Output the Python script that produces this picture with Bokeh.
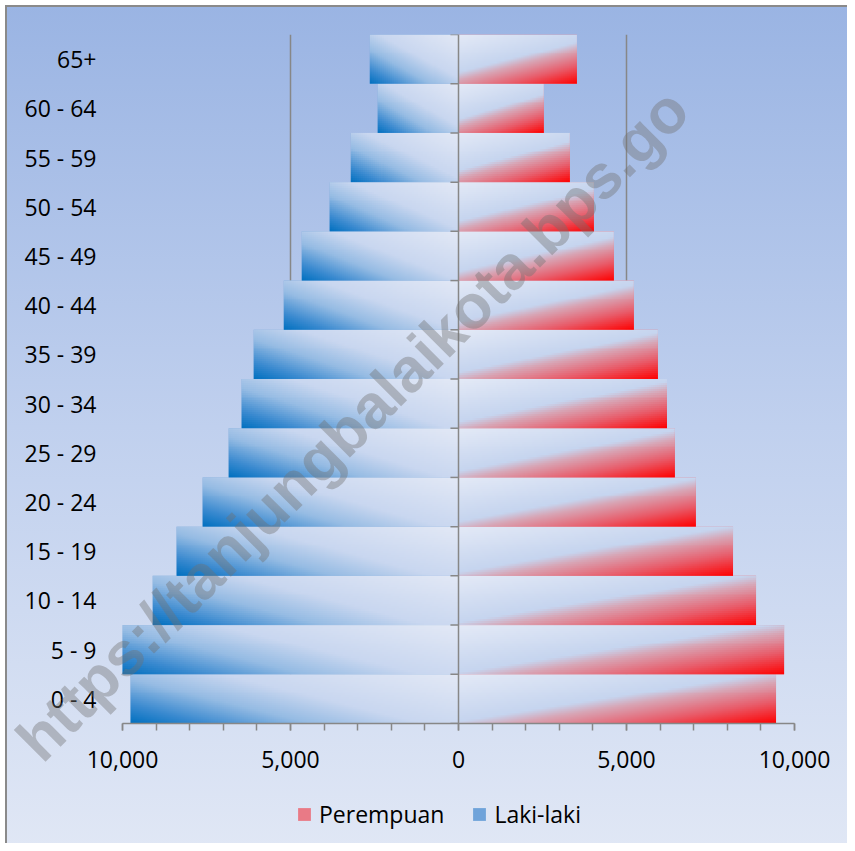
import numpy as np
from bokeh.plotting import figure
from bokeh.layouts import column
from bokeh.models import (Range1d, FixedTicker, SingleIntervalTicker, CustomJSTickFormatter,
                          Span, Legend, LegendItem, Label, ColumnDataSource)
from bokeh.embed import file_html
from bokeh.resources import INLINE

# ---------------- data ----------------
age_groups = ["0 - 4", "5 - 9", "10 - 14", "15 - 19", "20 - 24", "25 - 29", "30 - 34",
              "35 - 39", "40 - 44", "45 - 49", "50 - 54", "55 - 59", "60 - 64", "65+"]
laki_laki = [9760, 10020, 9100, 8390, 7615, 6840, 6455, 6095, 5200, 4665, 3835, 3205, 2405, 2640]
perempuan = [9450, 9690, 8855, 8170, 7065, 6440, 6205, 5935, 5220, 4625, 4030, 3315, 2540, 3525]
series_labels = ["Perempuan", "Laki-laki"]
x_limit = 10000
watermark = "https://tanjungbalaikota.bps.go"

FONT = "Open Sans"
GRAY = "#878787"
W_FIG, H_FIG = 847, 843
FRAME_W, FRAME_H = 672, 689
px_per_unit = FRAME_W / (2 * x_limit)
row_px = FRAME_H / len(age_groups)

female_stops = [(0.00, (228, 234, 247)), (0.48, (198, 213, 239)), (0.58, (216, 166, 182)),
                (0.78, (233, 92, 106)), (1.00, (255, 0, 0))]
male_stops = [(0.00, (227, 233, 246)), (0.45, (201, 215, 240)), (0.66, (150, 188, 228)),
              (0.86, (58, 138, 208)), (1.00, (0, 112, 192))]


def gradient_image(val, stops, s_coef, s_pow, outward_left):
    w_px = val * px_per_unit
    W = max(4, int(w_px / 2))
    H = 25
    cols = (np.arange(W) + 0.5) / W
    u = 1 - cols if outward_left else cols
    v = 1 - (np.arange(H) + 0.5) / H  # row 0 is bottom
    s = s_coef * (w_px / row_px) ** s_pow
    t = (s * u[None, :] + v[:, None]) / (s + 1)
    ts = [a for a, _ in stops]
    img = np.empty((H, W), dtype=np.uint32)
    view = img.view(dtype=np.uint8).reshape((H, W, 4))
    for k in range(3):
        view[..., k] = np.interp(t, ts, [c[k] for _, c in stops]).astype(np.uint8)
    view[..., 3] = 255
    return img


idx = list(range(len(age_groups)))

p = figure(width=W_FIG, height=H_FIG, output_backend="svg", toolbar_location=None,
           x_range=Range1d(-x_limit, x_limit), y_range=Range1d(-0.5, len(age_groups) - 0.5),
           min_border_left=122, min_border_right=W_FIG - 122 - FRAME_W,
           min_border_top=34, min_border_bottom=H_FIG - 34 - FRAME_H)
p.background_fill_alpha = 0
p.border_fill_alpha = 0
p.outline_line_color = None
p.styles = {
    "background": ("linear-gradient(#8A8A8A, #8A8A8A) 5px 5px / 2px 100% no-repeat, "
                   "linear-gradient(#8A8A8A, #8A8A8A) 5px 5px / 100% 2px no-repeat, "
                   "linear-gradient(to bottom, #9AB4E3 0%, #C0D0EE 50%, #E0E7F5 100%) "
                   "5px 5px / 100% 100% no-repeat, #FFFFFF"),
}

# base bars
p.hbar(y=idx, height=1.0, left=0, right=perempuan, fill_color="#E8707E", line_color=None)
p.hbar(y=idx, height=1.0, left=[-v for v in laki_laki], right=0,
       fill_color="#7FAADC", line_color=None)

# gradient fills
img_src = ColumnDataSource(dict(
    image=[gradient_image(v, male_stops, 0.8, 0.38, True) for v in laki_laki]
    + [gradient_image(v, female_stops, 0.40, 0.5, False) for v in perempuan],
    x=[-v for v in laki_laki] + [0] * len(perempuan),
    y=[i - 0.5 for i in idx] * 2,
    dw=list(laki_laki) + list(perempuan),
    dh=[1.0] * (2 * len(age_groups)),
))
p.image_rgba(image="image", x="x", y="y", dw="dw", dh="dh", source=img_src)

# central category axis with boundary ticks
p.add_layout(Span(location=0, dimension="height", line_color=GRAY, line_width=1.5))
bounds = [i - 0.5 for i in range(len(age_groups) + 1)]
p.segment(x0=[-240] * len(bounds), x1=[0] * len(bounds), y0=bounds, y1=bounds,
          line_color=GRAY, line_width=1.5)

# x axis
xa = p.xaxis[0]
xa.ticker = SingleIntervalTicker(interval=5000, num_minor_ticks=5)
xa.formatter = CustomJSTickFormatter(code="return Math.abs(tick).toLocaleString('en-US');")
xa.axis_line_color = GRAY
xa.axis_line_width = 1.5
xa.major_tick_line_color = GRAY
xa.minor_tick_line_color = GRAY
xa.major_tick_line_width = 1.5
xa.minor_tick_line_width = 1.5
xa.major_tick_in = 0
xa.minor_tick_in = 0
xa.major_tick_out = 7
xa.minor_tick_out = 7
xa.major_label_text_font = FONT
xa.major_label_text_font_size = "23px"
xa.major_label_text_color = "#000000"
xa.major_label_standoff = 20

# y axis (labels only)
ya = p.yaxis[0]
ya.ticker = FixedTicker(ticks=idx)
ya.major_label_overrides = {i: g for i, g in zip(idx, age_groups)}
ya.axis_line_color = None
ya.major_tick_line_color = None
ya.minor_tick_line_color = None
ya.major_tick_out = 0
ya.major_tick_in = 0
ya.major_label_standoff = 26
ya.major_label_text_font = FONT
ya.major_label_text_font_size = "23px"
ya.major_label_text_color = "#000000"

# grid
p.ygrid.grid_line_color = None
p.xgrid.ticker = FixedTicker(ticks=[-10000, -5000, 5000, 10000])
p.xgrid.grid_line_color = GRAY
p.xgrid.grid_line_width = 1.5

# ---------- overlay figure: legend + watermark (not clipped to the data frame) ----------
p2 = figure(width=W_FIG, height=H_FIG, output_backend="svg", toolbar_location=None,
            x_range=Range1d(0, 1), y_range=Range1d(0, 1), x_axis_type=None, y_axis_type=None,
            min_border=0, title=None)
p2.background_fill_alpha = 0
p2.border_fill_alpha = 0
p2.outline_line_color = None
p2.grid.visible = False
p2.styles = {"position": "absolute", "left": "0px", "top": "0px"}

for fig in (p, p2):
    if "frame_align" in fig.properties():
        fig.frame_align = False

# legend-only renderers (hidden; they carry the series styles for the legend swatches)
lf = p2.hbar(y=idx, height=1.0, left=0, right=perempuan, fill_color="#E97A86",
             line_color=None, visible=False)
lm = p2.hbar(y=idx, height=1.0, left=[-v for v in laki_laki], right=0,
             fill_color="#6FA3DA", line_color=None, visible=False)

legend = Legend(items=[LegendItem(label=series_labels[0], renderers=[lf]),
                       LegendItem(label=series_labels[1], renderers=[lm])],
                location=(296, 13), orientation="horizontal")
legend.label_text_font = FONT
legend.label_text_font_size = "23px"
legend.label_text_color = "#000000"
legend.glyph_width = 16
legend.glyph_height = 16
legend.label_standoff = 7
legend.spacing = 27
legend.padding = 0
legend.margin = 0
legend.border_line_color = None
legend.background_fill_alpha = 0
legend.inactive_fill_alpha = 0
p2.add_layout(legend)

p2.add_layout(Label(x=352, y=H_FIG - 424, x_units="screen", y_units="screen", text=watermark,
                    angle=45, angle_units="deg", text_align="center", text_baseline="middle",
                    text_font="Liberation Sans", text_font_style="bold", text_font_size="62px",
                    text_color="#707070", text_alpha=0.4))

root = column(p, p2)
root.styles = {"position": "relative"}

open("out.html", "w").write(file_html(root, INLINE))
